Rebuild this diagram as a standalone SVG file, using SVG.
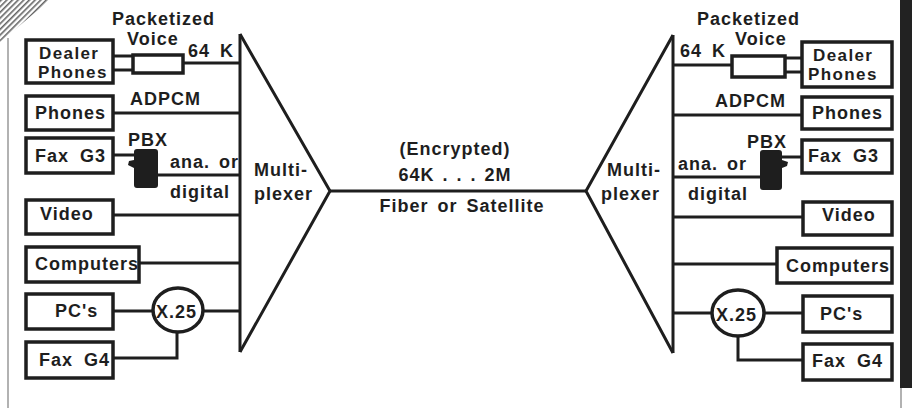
<svg xmlns="http://www.w3.org/2000/svg" width="912" height="408" viewBox="0 0 912 408">
<style>
.bx{fill:#fff;stroke:#1e1e1e;stroke-width:3.5}
.ln{fill:none;stroke:#1e1e1e;stroke-width:3}
.t{font-family:"Liberation Sans",Arial,sans-serif;font-weight:bold;font-size:18px;fill:#1e1e1e;letter-spacing:1px}
.s{font-size:17px;letter-spacing:1.4px}
.blk{fill:#1e1e1e}
</style>
<defs>
<pattern id="hatch" width="4" height="4" patternUnits="userSpaceOnUse" patternTransform="rotate(45)">
<rect width="4" height="4" fill="#fff"/>
<rect width="1.6" height="4" fill="#666"/>
</pattern>
</defs>
<rect width="912" height="408" fill="#fff"/>
<!-- page decorations -->
<polygon points="0,0 50,0 0,42" fill="url(#hatch)"/>
<line x1="8" y1="38" x2="8" y2="408" stroke="#999" stroke-width="1.5"/>
<rect x="900" y="0" width="12" height="388" fill="#222"/>
<line x1="901" y1="388" x2="901" y2="408" stroke="#999" stroke-width="1.5"/>

<g id="connectors">
<!-- left side -->
<polyline class="ln" points="240,34 330,191 240,352"/>
<line class="ln" x1="240" y1="34" x2="240" y2="352"/>
<line class="ln" x1="113" y1="56" x2="133" y2="56"/>
<line class="ln" x1="113" y1="70" x2="133" y2="70"/>
<line class="ln" x1="183" y1="63" x2="240" y2="63"/>
<line class="ln" x1="113" y1="113" x2="240" y2="113"/>
<line class="ln" x1="113" y1="155" x2="136" y2="155"/>
<line class="ln" x1="156" y1="175" x2="240" y2="175"/>
<line class="ln" x1="113" y1="215" x2="240" y2="215"/>
<line class="ln" x1="139" y1="263" x2="240" y2="263"/>
<line class="ln" x1="113" y1="311" x2="153" y2="311"/>
<line class="ln" x1="203" y1="311" x2="240" y2="311"/>
<polyline class="ln" points="113,358 177,358 177,333"/>
<!-- trunk -->
<line class="ln" x1="330" y1="191" x2="586" y2="191" stroke-width="3.5"/>
<!-- right side -->
<polyline class="ln" points="673,35 586,191 673,353"/>
<line class="ln" x1="673" y1="35" x2="673" y2="353"/>
<line class="ln" x1="673" y1="65" x2="732" y2="65"/>
<line class="ln" x1="785" y1="58" x2="802" y2="58"/>
<line class="ln" x1="785" y1="72" x2="802" y2="72"/>
<line class="ln" x1="673" y1="115" x2="802" y2="115"/>
<line class="ln" x1="673" y1="177" x2="761" y2="177"/>
<line class="ln" x1="781" y1="157" x2="802" y2="157"/>
<line class="ln" x1="673" y1="217" x2="803" y2="217"/>
<line class="ln" x1="673" y1="264" x2="777" y2="264"/>
<line class="ln" x1="673" y1="313" x2="712" y2="313"/>
<line class="ln" x1="764" y1="313" x2="803" y2="313"/>
<polyline class="ln" points="738,336 738,360 803,360"/>
</g>

<!-- left nodes -->
<g id="dealer-phones-l"><rect class="bx" x="26" y="40" width="87" height="43"/><text class="t s" x="39" y="59">Dealer</text><text class="t s" x="38" y="78">Phones</text></g>
<g id="packet-voice-l"><rect class="bx" x="133" y="55" width="50" height="18"/><text class="t" x="112" y="25">Packetized</text><text class="t" x="127" y="45">Voice</text><text class="t" x="188" y="57" word-spacing="4">64 K</text></g>
<g id="phones-l"><rect class="bx" x="26" y="96" width="87" height="34"/><text class="t" x="35" y="119">Phones</text><text class="t" x="130" y="105">ADPCM</text></g>
<g id="faxg3-l"><rect class="bx" x="26" y="138" width="87" height="35"/><text class="t" x="35" y="162" word-spacing="5">Fax G3</text></g>
<g id="pbx-l"><path class="blk" d="M137,149 H155 Q158,149 158,152 V185 Q158,188 155,188 H137 Q134,188 134,185 V168 L128,165 L129,161 L134,160 V152 Q134,149 137,149 Z"/><text class="t" x="128" y="146">PBX</text><text class="t" x="170" y="168" word-spacing="3">ana. or</text><text class="t" x="170" y="198">digital</text></g>
<g id="video-l"><rect class="bx" x="26" y="200" width="87" height="34"/><text class="t" x="40" y="220">Video</text></g>
<g id="computers-l"><rect class="bx" x="26" y="247" width="113" height="35"/><text class="t" x="35" y="270" letter-spacing="0.6">Computers</text></g>
<g id="pcs-l"><rect class="bx" x="26" y="294" width="87" height="35"/><text class="t" x="55" y="317">PC's</text></g>
<g id="x25-l"><ellipse class="bx" cx="178" cy="310" rx="25" ry="22"/><text class="t" x="156" y="318">X.25</text></g>
<g id="faxg4-l"><rect class="bx" x="26" y="342" width="87" height="36"/><text class="t" x="39" y="366" word-spacing="5">Fax G4</text></g>
<g id="mux-l"><text class="t" x="254" y="176">Multi-</text><text class="t" x="254" y="200">plexer</text></g>

<!-- center labels -->
<g id="link"><text class="t" x="455" y="155" text-anchor="middle">(Encrypted)</text><text class="t" x="455" y="181" text-anchor="middle" word-spacing="2">64K . . . 2M</text><text class="t" x="462" y="212" text-anchor="middle" word-spacing="3">Fiber or Satellite</text></g>

<!-- right nodes -->
<g id="mux-r"><text class="t" x="607" y="176">Multi-</text><text class="t" x="601" y="200">plexer</text></g>
<g id="packet-voice-r"><rect class="bx" x="732" y="56" width="53" height="21"/><text class="t" x="697" y="25">Packetized</text><text class="t" x="735" y="45">Voice</text><text class="t" x="680" y="57" word-spacing="4">64 K</text></g>
<g id="dealer-phones-r"><rect class="bx" x="802" y="42" width="90" height="45"/><text class="t s" x="813" y="61">Dealer</text><text class="t s" x="808" y="80">Phones</text></g>
<g id="phones-r"><rect class="bx" x="802" y="97" width="90" height="32"/><text class="t" x="812" y="119">Phones</text><text class="t" x="715" y="107">ADPCM</text></g>
<g id="pbx-r"><path class="blk" d="M763,150 H779 Q782,150 782,153 V160 L788,162 L787,166 L782,168 V187 Q782,190 779,190 H763 Q760,190 760,187 V153 Q760,150 763,150 Z"/><text class="t" x="747" y="148">PBX</text><text class="t" x="678" y="170" word-spacing="3">ana. or</text><text class="t" x="688" y="200">digital</text></g>
<g id="faxg3-r"><rect class="bx" x="802" y="140" width="90" height="33"/><text class="t" x="808" y="162" word-spacing="5">Fax G3</text></g>
<g id="video-r"><rect class="bx" x="803" y="202" width="89" height="33"/><text class="t" x="822" y="221">Video</text></g>
<g id="computers-r"><rect class="bx" x="777" y="248" width="115" height="35"/><text class="t" x="786" y="272" letter-spacing="0.6">Computers</text></g>
<g id="x25-r"><ellipse class="bx" cx="738" cy="313" rx="26" ry="23"/><text class="t" x="716" y="321">X.25</text></g>
<g id="pcs-r"><rect class="bx" x="803" y="296" width="89" height="36"/><text class="t" x="820" y="320">PC's</text></g>
<g id="faxg4-r"><rect class="bx" x="803" y="344" width="89" height="36"/><text class="t" x="812" y="367" word-spacing="5">Fax G4</text></g>
</svg>
